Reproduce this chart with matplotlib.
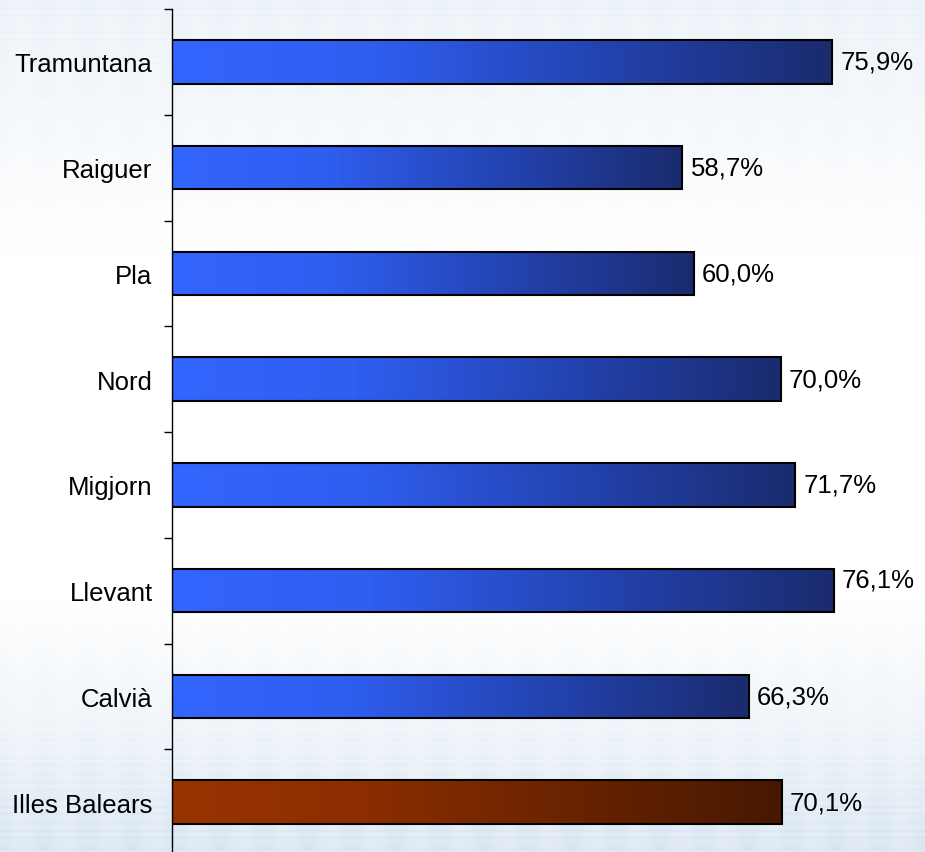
import numpy as np
import matplotlib
matplotlib.use("Agg")
import matplotlib.pyplot as plt
from matplotlib.colors import LinearSegmentedColormap

categories = ["Tramuntana", "Raiguer", "Pla", "Nord", "Migjorn", "Llevant", "Calvià", "Illes Balears"]
values = [75.9, 58.7, 60.0, 70.0, 71.7, 76.1, 66.3, 70.1]
labels = ["75,9%", "58,7%", "60,0%", "70,0%", "71,7%", "76,1%", "66,3%", "70,1%"]

plt.rcParams["font.family"] = ["Liberation Sans", "DejaVu Sans"]

fig = plt.figure(figsize=(9.25, 8.53), dpi=100)

# background: pale streaky blue, white in the middle, bluer at the bottom
bg = fig.add_axes([0, 0, 1, 1], zorder=0)
rows = np.linspace(0, 1, 853)
base = np.interp(rows, [0, 0.12, 0.3, 0.7, 0.85, 1.0], [0.5, 0.3, 0.0, 0.0, 0.4, 0.95])
streak = 0.5 + 0.5 * np.sin(rows * 853 * 0.9) * np.sin(rows * 853 * 0.13)
cols = np.linspace(0, 1, 925)
block = 0.8 + 0.2 * np.cos(cols * 925 / 44.0 * np.pi) ** 2
tex = np.clip(base[:, None] * (0.75 + 0.25 * streak[:, None]) * block[None, :], 0, 1)
bg_cmap = LinearSegmentedColormap.from_list("bg", ["#ffffff", "#d2e1ef"])
bg.imshow(tex, cmap=bg_cmap, aspect="auto", vmin=0, vmax=1, extent=[0, 1, 0, 1])
bg.axis("off")

ax = fig.add_axes([172 / 925, -3 / 853, 753 / 925, 846 / 853], zorder=1)
ax.patch.set_alpha(0)
px_per_unit = (832 - 172) / 75.9
ax.set_xlim(0, 753 / px_per_unit)
ax.set_ylim(len(categories) - 0.5, -0.5)

blue = LinearSegmentedColormap.from_list(
    "b", [(0, "#3366ff"), (0.3, "#2f5ef0"), (0.65, "#2343b0"), (1, "#1a2b6e")])
red = LinearSegmentedColormap.from_list(
    "r", [(0, "#993300"), (0.3, "#8c2e00"), (0.65, "#6a2300"), (1, "#461800")])
grad = np.linspace(0, 1, 256)[None, :]
h = 0.41
for i, v in enumerate(values):
    cm = red if i == len(values) - 1 else blue
    ax.imshow(grad, cmap=cm, aspect="auto", extent=[0, v, i + h / 2, i - h / 2], zorder=2)
bars = ax.barh(range(len(values)), values, height=h, facecolor="none",
               edgecolor="black", linewidth=1.5, zorder=3)
for i, (b, lab) in enumerate(zip(bars, labels)):
    dy = 8 if values[i] > 76 else 0
    ax.annotate(lab, (b.get_width(), b.get_y() + b.get_height() / 2), xytext=(6, dy),
                textcoords="offset points", ha="left", va="center", fontsize=18.5, zorder=4)

ax.set_yticks(np.arange(-0.5, len(categories), 1.0))
ax.set_yticklabels([])
ax.set_yticks(range(len(categories)), minor=True)
ax.set_yticklabels(categories, minor=True, fontsize=18.5)
ax.tick_params(axis="y", which="major", length=6, width=1, direction="out")
ax.tick_params(axis="y", which="minor", length=0, pad=14)
ax.set_xticks([])
for s in ["top", "right", "bottom"]:
    ax.spines[s].set_visible(False)
ax.spines["left"].set_linewidth(1)

fig.savefig("out.png", dpi=100)
